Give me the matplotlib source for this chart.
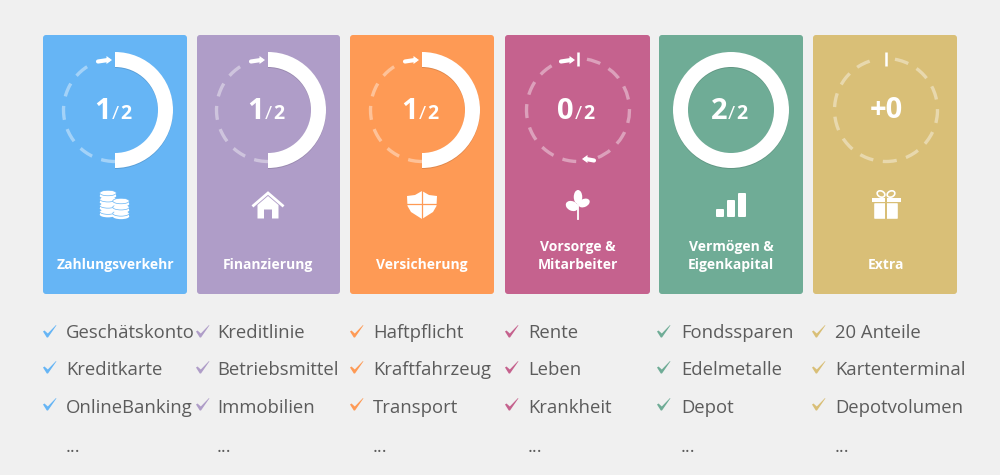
import matplotlib
matplotlib.use('Agg')
import matplotlib.pyplot as plt
from matplotlib.patches import Wedge, Arc, FancyBboxPatch, Polygon, Ellipse, Rectangle

plt.rcParams['font.family'] = ['Open Sans', 'DejaVu Sans']

# Chart content
titles = ['Zahlungsverkehr', 'Finanzierung', 'Versicherung', 'Vorsorge &\nMitarbeiter',
          'Vermögen &\nEigenkapital', 'Extra']
done = [1, 1, 1, 0, 2, 0]
total = [2, 2, 2, 2, 2, 0]
colors = ['#66b5f5', '#af9dc8', '#fe9a55', '#c5628e', '#6fac96', '#d9bf77']
items = [['Geschätskonto', 'Kreditkarte', 'OnlineBanking', '...'],
         ['Kreditlinie', 'Betriebsmittel', 'Immobilien', '...'],
         ['Haftpflicht', 'Kraftfahrzeug', 'Transport', '...'],
         ['Rente', 'Leben', 'Krankheit', '...'],
         ['Fondssparen', 'Edelmetalle', 'Depot', '...'],
         ['20 Anteile', 'Kartenterminal', 'Depotvolumen', '...']]

# Layout in pixels
card_left = [43, 197, 350, 505, 659, 813]
card_right = [187, 340, 494, 650, 803, 957]
ring_x = [115, 268, 422, 578, 731, 886]
text_x = [66, 217, 373, 528, 681, 835]
check_x = [43, 196, 350, 505, 657, 812]
ring_y = 110
text_color = '#5c5c5c'

fig = plt.figure(figsize=(10, 4.75), dpi=100, facecolor='#f0f0f0')
ax = fig.add_axes([0, 0, 1, 1])
ax.set_xlim(0, 1000)
ax.set_ylim(475, 0)
ax.axis('off')


def arrow(x0, x1, y):
    # little white arrow next to the ring
    d = 1 if x1 > x0 else -1
    ax.plot([x0, x1 - 4 * d], [y + 1.5, y], color='white', lw=3, solid_capstyle='round')
    ax.add_patch(Polygon([[x1, y], [x1 - 5.5 * d, y - 4], [x1 - 5.5 * d, y + 4]], fc='white', ec='none'))


def dashes(cx, t0, t1):
    ax.add_patch(Arc((cx, ring_y), 103, 103, theta1=t0, theta2=t1,
                     color='white', alpha=0.4, lw=2.4, linestyle=(0, (4.2, 2.9))))


def coins(cx, cy, col):
    for sx, top, n in [(-6, -15, 4), (7, -7, 3)]:
        for k in range(n - 1, -1, -1):
            y = cy + top + 3 + k * 6.2
            ax.add_patch(Ellipse((cx + sx, y + 3), 16.5, 5.5, fc='white', ec='none'))
            ax.add_patch(Rectangle((cx + sx - 8.25, y), 16.5, 3, fc='white', ec='none'))
            ax.add_patch(Ellipse((cx + sx, y), 16.5, 5.5, fc='white', ec=col, lw=0.5))


def house(cx, cy, col):
    ax.plot([cx - 14.5, cx, cx + 14.5], [cy + 0.5, cy - 12, cy + 0.5], color='white', lw=2, solid_joinstyle='miter')
    ax.add_patch(Polygon([[cx - 10.5, cy + 13.5], [cx - 10.5, cy + 0], [cx, cy - 9], [cx + 10.5, cy + 0],
                          [cx + 10.5, cy + 13.5], [cx + 4, cy + 13.5], [cx + 4, cy + 4.5],
                          [cx - 4, cy + 4.5], [cx - 4, cy + 13.5]], fc='white', ec='none'))


def shield(cx, cy, col):
    ax.add_patch(Polygon([[cx, cy - 14], [cx - 7, cy - 10], [cx - 15, cy - 9], [cx - 14.5, cy + 1], [cx - 11, cy + 7],
                          [cx, cy + 14], [cx + 11, cy + 7], [cx + 14.5, cy + 1], [cx + 15, cy - 9], [cx + 7, cy - 10]],
                         fc='white', ec='none'))
    ax.plot([cx, cx], [cy - 14, cy + 14], color=col, lw=0.9)
    ax.plot([cx - 15, cx + 15], [cy - 1, cy - 1], color=col, lw=0.9)


def sprout(cx, cy, col):
    ax.plot([cx, cx], [cy - 4, cy + 14], color='white', lw=1.3)
    ax.add_patch(Ellipse((cx, cy - 8), 8.5, 14, fc='white', ec='none'))
    ax.add_patch(Ellipse((cx - 6, cy + 1), 13, 9.5, angle=25, fc='white', ec='none'))
    ax.add_patch(Ellipse((cx + 6, cy - 2), 12, 8, angle=-25, fc='white', ec='none'))


def bars(cx, cy, col):
    for sx, h in [(-11, 8), (0, 17), (11, 24)]:
        ax.add_patch(FancyBboxPatch((cx + sx - 3, cy + 12 - h + 1), 6, h - 2,
                                    boxstyle='round,pad=1', fc='white', ec='none'))


def gift(cx, cy, col):
    ax.add_patch(Rectangle((cx - 14.5, cy - 7), 29, 4, fc='white', ec='none'))
    ax.add_patch(FancyBboxPatch((cx - 11, cy - 1), 22, 14, boxstyle='round,pad=0.8', fc='white', ec='none'))
    ax.add_patch(Rectangle((cx - 1, cy - 7), 2, 21, fc=col, ec='none'))
    ax.add_patch(Ellipse((cx - 5, cy - 11), 8, 6, angle=25, fc='none', ec='white', lw=1.2))
    ax.add_patch(Ellipse((cx + 5, cy - 11), 8, 6, angle=-25, fc='none', ec='white', lw=1.2))


def check(x, y, col):
    # tapered tick, thick at the elbow and thin at the far end
    ax.add_patch(Polygon([[x, y + 6.5], [x + 1.5, y + 5.5], [x + 4.8, y + 8.5], [x + 13, y],
                          [x + 13.4, y + 0.4], [x + 5, y + 12.5], [x + 3.8, y + 12.5]],
                         fc=col, ec='none'))


icons = [coins, house, shield, sprout, bars, gift]
icon_x = [114, 268, 422, 578, 731, 886]
icon_y = 205

for i in range(6):
    col = colors[i]
    cx = ring_x[i]
    ax.add_patch(FancyBboxPatch((card_left[i] + 3, 38), card_right[i] - card_left[i] - 6, 253,
                                boxstyle='round,pad=3', fc=col, ec='none'))

    # dashed remainder of the ring, then the filled part
    frac = done[i] / total[i] if total[i] else 0
    start = -90 + 360 * frac
    if 0 < frac < 1:
        dashes(cx, start, 248)
    elif frac == 0 and total[i]:
        dashes(cx, -80, 68)
        dashes(cx, 92, 250)
    elif frac == 0:
        dashes(cx, -80, 260)
    if frac > 0:
        ax.add_patch(Wedge((cx, ring_y + 1), 58, -90, start, width=15, fc='black', ec='none', alpha=0.12))
        ax.add_patch(Wedge((cx, ring_y), 58, -90, start, width=15, fc='white', ec='none'))

    # arrows and start marks
    if total[i] and frac < 1:
        arrow(cx - 17, cx - 3, 60)
    if frac == 0:
        ax.plot([cx, cx], [52, 66], color='white', lw=1.8, solid_capstyle='butt')
    if frac == 0 and total[i]:
        arrow(cx + 16, cx + 4, 159)

    # number in the middle
    if total[i]:
        ax.text(cx - 4, 119, str(done[i]), color='white', fontsize=21, fontweight='bold', ha='right', va='baseline')
        ax.text(cx - 3, 119, '/', color='white', fontsize=14, ha='left', va='baseline')
        ax.text(cx + 5, 119, str(total[i]), color='white', fontsize=14, fontweight='bold', ha='left', va='baseline')
    else:
        ax.text(cx, 118, '+0', color='white', fontsize=21, fontweight='bold', ha='center', va='baseline')

    # icon
    icons[i](icon_x[i], icon_y, col)

    # card title, last line always on the same baseline
    lines = titles[i].split('\n')
    for k, line in enumerate(reversed(lines)):
        ax.text(cx, 269 - 17.5 * k, line, color='white', fontsize=10, fontweight='bold', ha='center', va='baseline')

    # list below the card
    for k, name in enumerate(items[i]):
        y = [338, 375, 413, 452][k]
        ax.text(text_x[i], y, name, color=text_color, fontsize=13.3, ha='left', va='baseline')
        if k < 3:
            check(check_x[i], [325, 361, 398][k], col)

fig.savefig('out.png', dpi=100, facecolor=fig.get_facecolor())
